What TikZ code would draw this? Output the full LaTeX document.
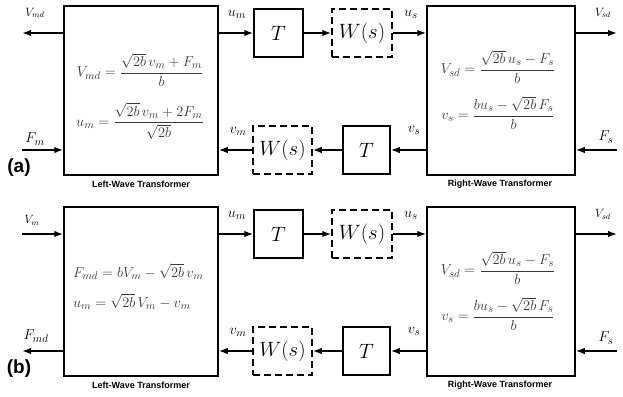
\documentclass[tikz,border=0pt]{standalone}
\usepackage{amsmath}
\usepackage{fontspec}
\setsansfont{Liberation Sans}
\usetikzlibrary{arrows.meta}
\definecolor{eqgray}{HTML}{383838}
\tikzset{
  arr/.style={line width=1.5pt,-{Latex[length=9pt,width=6.5pt]}},
  wtbox/.style={draw,line width=1.5pt,minimum width=154pt,minimum height=169pt,inner sep=0pt},
  tbox/.style={draw,line width=1.5pt,minimum height=48pt,inner sep=0pt,font=\fontsize{21}{24}\selectfont},
  wbox/.style={tbox,dash pattern=on 7pt off 4pt},
  sig/.style={inner sep=0pt,font=\fontsize{15}{18}\selectfont},
  sigs/.style={inner sep=0pt,font=\fontsize{12}{14}\selectfont},
  eq/.style={inner sep=0pt,text=eqgray,font=\fontsize{15}{17}\selectfont},
  captxt/.style={inner sep=0pt,font=\sffamily\bfseries\fontsize{9}{11}\selectfont},
  tagtxt/.style={inner sep=0pt,font=\sffamily\bfseries\fontsize{19}{22}\selectfont}
}
\newcommand{\panelparts}{%
  \node[wtbox] (L) at (141,90.5) {};
  \node[wtbox,minimum width=148pt] (R) at (501,90.5) {};
  \node[tbox,minimum width=49pt] (T1) at (278.5,33) {$T$};
  \node[wbox,minimum width=60pt] (W1) at (362,33) {$W(s)$};
  \node[wbox,minimum width=59pt] (W2) at (282.5,150) {$W(s)$};
  \node[tbox,minimum width=47pt] (T2) at (366.5,150) {$T$};
  \draw[arr] (L.east |- T1.west) -- (T1.west);
  \draw[arr] (T1.east) -- (W1.west);
  \draw[arr] (W1.east) -- (R.west |- W1.east);
  \draw[arr] (R.west |- T2.east) -- (T2.east);
  \draw[arr] (T2.west) -- (W2.east);
  \draw[arr] (W2.west) -- (L.east |- W2.west);
  \coordinate (rt) at (617,33);
  \coordinate (rb) at (617,150);
  \coordinate (lt) at (22,33);
  \coordinate (lb) at (22,150);
  \draw[arr] (R.east |- rt) -- (rt);
  \draw[arr] (rb) -- (R.east |- rb);
  \node[sig] (um) at (237,14) {$u_m$};
  \node[sig] (vm) at (238,131) {$v_m$};
  \node[sig] (us) at (411,14) {$u_s$};
  \node[sig] (vs) at (414,130) {$v_s$};
  \node[sigs] (vsd) at (603,13) {$V_{sd}$};
  \node[sig] (fs) at (606,137) {$F_s$};
  \node[captxt] (cl) at (141,184) {Left-Wave Transformer};
  \node[captxt] (cr) at (500,184) {Right-Wave Transformer};
  \node[eq,anchor=base] (e3) at (498,73.5) {$V_{sd}=\dfrac{\sqrt{2b}\,u_s-F_s}{b}$};
  \node[eq,anchor=base] (e4) at (498,119.5) {$v_s=\dfrac{bu_s-\sqrt{2b}\,F_s}{b}$};
}
\begin{document}
\begin{tikzpicture}[x=1pt,y=-1pt]
\useasboundingbox (0,0) rectangle (623,396);
\begin{scope}[name prefix=a-]
  \panelparts
  \draw[arr] (L.west |- lt) -- (lt);
  \draw[arr] (lb) -- (L.west |- lb);
  \node[sigs] (vmd) at (35,13) {$V_{md}$};
  \node[sig] (fm) at (35,139) {$F_m$};
  \node[tagtxt] (ta) at (19,168) {(a)};
  \node[eq,anchor=base] (e1) at (140,76.5) {$V_{md}=\dfrac{\sqrt{2b}\,v_m+F_m}{b}$};
  \node[eq,anchor=base] (e2) at (140,126) {$u_m=\dfrac{\sqrt{2b}\,v_m+2F_m}{\sqrt{2b}}$};
\end{scope}
\begin{scope}[shift={(0,201)},name prefix=b-]
  \panelparts
  \draw[arr] (lt) -- (L.west |- lt);
  \draw[arr] (L.west |- lb) -- (lb);
  \node[sigs] (vm0) at (32,19) {$V_m$};
  \node[sig] (fmd) at (36,135) {$F_{md}$};
  \node[tagtxt] (tb) at (19,168) {(b)};
  \node[eq,anchor=base west] (e1) at (73,76) {$F_{md}=bV_m-\sqrt{2b}\,v_m$};
  \node[eq,anchor=base west] (e2) at (73,106) {$u_m=\sqrt{2b}\,V_m-v_m$};
\end{scope}
\end{tikzpicture}
\end{document}
